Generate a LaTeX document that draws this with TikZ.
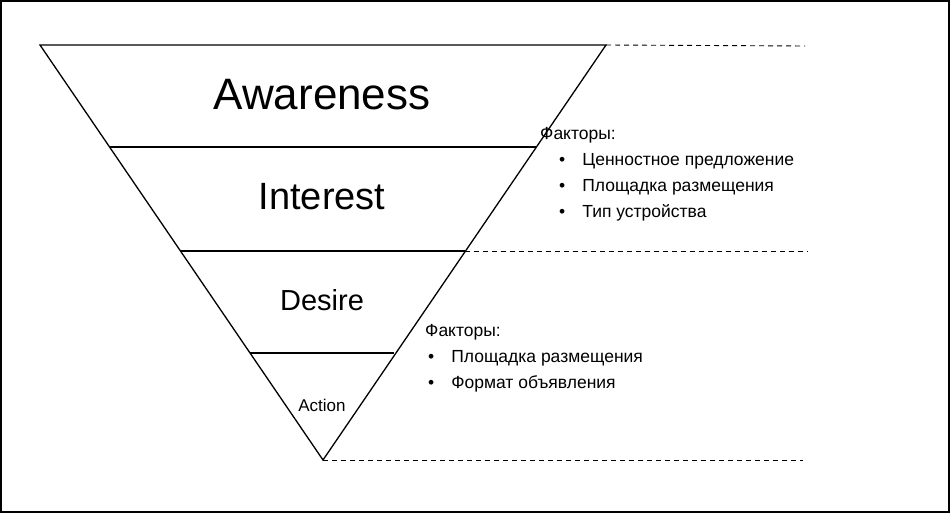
\documentclass[tikz,border=0pt]{standalone}
\usepackage{fontspec}
\setmainfont{Liberation Sans}
\usetikzlibrary{positioning}
\tikzset{
  funnel/.style={black, line width=1.3pt},
  guide/.style={black, dashed, line width=0.9pt, dash pattern=on 5pt off 4pt},
  stage/.style={inner sep=0pt, anchor=center},
  factors/.style={inner sep=0pt, anchor=north west, align=left, font=\fontsize{17.5}{26}\selectfont}
}
\begin{document}
\begin{tikzpicture}[x=1pt, y=-1pt]
    \useasboundingbox (0,0) rectangle (950,513);
    \draw[black, line width=1.5pt] (1,1) rectangle (949,512);
    % funnel outline
    \coordinate (tl) at (40,45);
    \coordinate (tr) at (606,45);
    \coordinate (tip) at (323,460);
    \draw[funnel] (tl) -- (tr) -- (tip) -- cycle;
    \draw[funnel] (109.5,147) -- (535.5,147);
    \draw[funnel] (180.5,251) -- (464.5,251);
    \draw[funnel] (250,353) -- (394,353);
    % dashed guides
    \draw[guide] (tr) -- (805,46);
    \draw[guide] (464.5,251) -- (808,251);
    \draw[guide] (tip) -- (803,460);
    % stage labels
    \node[stage, font=\fontsize{44}{44}\selectfont] (aware) at (322,95) {Awareness};
    \node[stage, font=\fontsize{38}{38}\selectfont] (inter) at (322,197) {Interest};
    \node[stage, font=\fontsize{29}{29}\selectfont] (desire) at (322,300) {Desire};
    \node[stage, font=\fontsize{17}{17}\selectfont] (action) at (322,405) {Action};
    % factor lists
    \node[factors] (fac1) at (540,127) {Факторы:\\
      \hspace*{19pt}\textbullet\hspace{17pt}Ценностное предложение\\
      \hspace*{19pt}\textbullet\hspace{17pt}Площадка размещения\\
      \hspace*{19pt}\textbullet\hspace{17pt}Тип устройства};
    \node[factors] (fac2) at (425,324) {Факторы:\\
      \hspace*{3pt}\textbullet\hspace{17pt}Площадка размещения\\
      \hspace*{3pt}\textbullet\hspace{17pt}Формат объявления};
\end{tikzpicture}
\end{document}
